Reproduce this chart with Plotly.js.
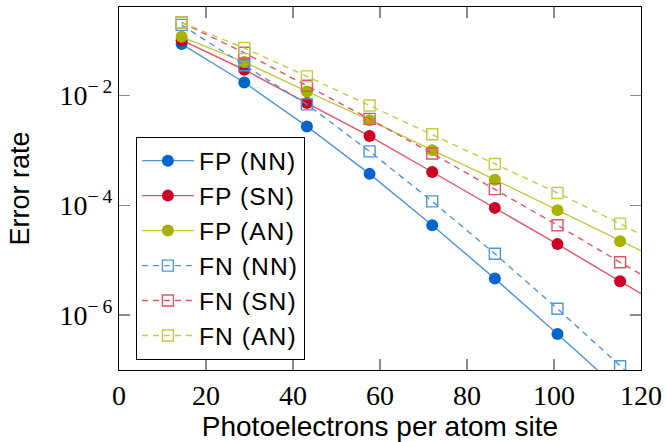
<!DOCTYPE html>
<html>
<head>
<meta charset="utf-8">
<script src="https://cdn.plot.ly/plotly-3.0.1.min.js"></script>
<style>
html,body{margin:0;padding:0;background:#fff;}
#chart{width:666px;height:442px;}
.legendtext{letter-spacing:1.1px;}
</style>
</head>
<body>
<div id="chart"></div>
<script>
// Photoelectrons per atom site (last value lies beyond the axis range; lines continue to the frame)
const photoelectrons = [14.4, 28.8, 43.2, 57.6, 72, 86.4, 100.8, 115.2, 129.6];

const fpNN = [0.085, 0.017, 0.0027, 3.7e-4, 4.3e-5, 4.6e-6, 4.5e-7, 4.0e-8, 4.0e-9];
const fpSN = [0.10, 0.029, 0.0072, 1.8e-3, 4.0e-4, 8.9e-5, 1.95e-5, 4.1e-6, 8.9e-7];
const fpAN = [0.115, 0.040, 0.0117, 3.5e-3, 1.0e-3, 2.9e-4, 8.1e-5, 2.2e-5, 6.3e-6];
const fnNN = [0.19, 0.035, 0.0068, 9.5e-4, 1.17e-4, 1.3e-5, 1.3e-6, 1.17e-7, 1.1e-8];
const fnSN = [0.21, 0.059, 0.0148, 3.7e-3, 8.7e-4, 1.95e-4, 4.3e-5, 9.1e-6, 2.0e-6];
const fnAN = [0.21, 0.072, 0.022, 6.5e-3, 1.95e-3, 5.6e-4, 1.66e-4, 4.6e-5, 1.15e-5];

const seriesNames = ['FP (NN)', 'FP (SN)', 'FP (AN)', 'FN (NN)', 'FN (SN)', 'FN (AN)'];

const xTicks = [0, 20, 40, 60, 80, 100, 120];
const yTicks = [1e-6, 1e-4, 1e-2];
const yTickText = ['10<sup>\u2212\u20096</sup>', '10<sup>\u2212\u20094</sup>', '10<sup>\u2212\u20092</sup>'];

const markColors = ['#0066CC', '#CC0022', '#A8B000'];
const lineColors = ['#4F95DC', '#DE5566', '#C2CA45'];

function fp(y, i, name) {
  return {
    x: photoelectrons, y: y, name: name, type: 'scatter', mode: 'lines+markers',
    line: {color: lineColors[i], width: 1.4},
    marker: {symbol: 'circle', size: 12, color: markColors[i]}
  };
}
function fn(y, i, name) {
  return {
    x: photoelectrons, y: y, name: name, type: 'scatter', mode: 'lines+markers',
    line: {color: lineColors[i], width: 1.4, dash: '6px,5px'},
    marker: {symbol: 'square-open', size: 11, color: lineColors[i], line: {color: lineColors[i], width: 1.4}}
  };
}

const data = [
  fp(fpNN, 0, seriesNames[0]),
  fp(fpSN, 1, seriesNames[1]),
  fp(fpAN, 2, seriesNames[2]),
  fn(fnNN, 0, seriesNames[3]),
  fn(fnSN, 1, seriesNames[4]),
  fn(fnAN, 2, seriesNames[5])
];

const axisCommon = {
  ticks: 'inside', ticklen: 11, tickwidth: 1.2, tickcolor: '#8a8a8a',
  showline: true, linecolor: '#000', linewidth: 1.2, mirror: 'allticks',
  showgrid: false, zeroline: false,
  tickfont: {family: 'Liberation Serif', size: 28, color: '#000'}
};

const layout = {
  width: 666, height: 442,
  margin: {l: 119, r: 25, t: 7, b: 72},
  paper_bgcolor: '#fff', plot_bgcolor: '#fff',
  showlegend: true,
  xaxis: Object.assign({}, axisCommon, {
    range: [0, 120], tickmode: 'array', tickvals: xTicks,
    title: {text: 'Photoelectrons per atom site', font: {family: 'Liberation Sans', size: 28, color: '#000'}, standoff: 13}
  }),
  yaxis: Object.assign({}, axisCommon, {
    type: 'log', range: [-7, -0.396], tickmode: 'array', tickvals: yTicks, ticktext: yTickText,
    title: {text: 'Error rate', font: {family: 'Liberation Sans', size: 27, color: '#000'}, standoff: 22}
  }),
  legend: {
    x: 0.032, y: 0.642, xanchor: 'left', yanchor: 'top',
    bgcolor: '#fff', bordercolor: '#000', borderwidth: 1.2,
    font: {family: 'Liberation Sans', size: 24.6, color: '#000'},
    itemwidth: 52, entrywidth: 112, entrywidthmode: 'pixels'
  }
};

Plotly.newPlot('chart', data, layout, {displayModeBar: false, staticPlot: true});
</script>
</body>
</html>
